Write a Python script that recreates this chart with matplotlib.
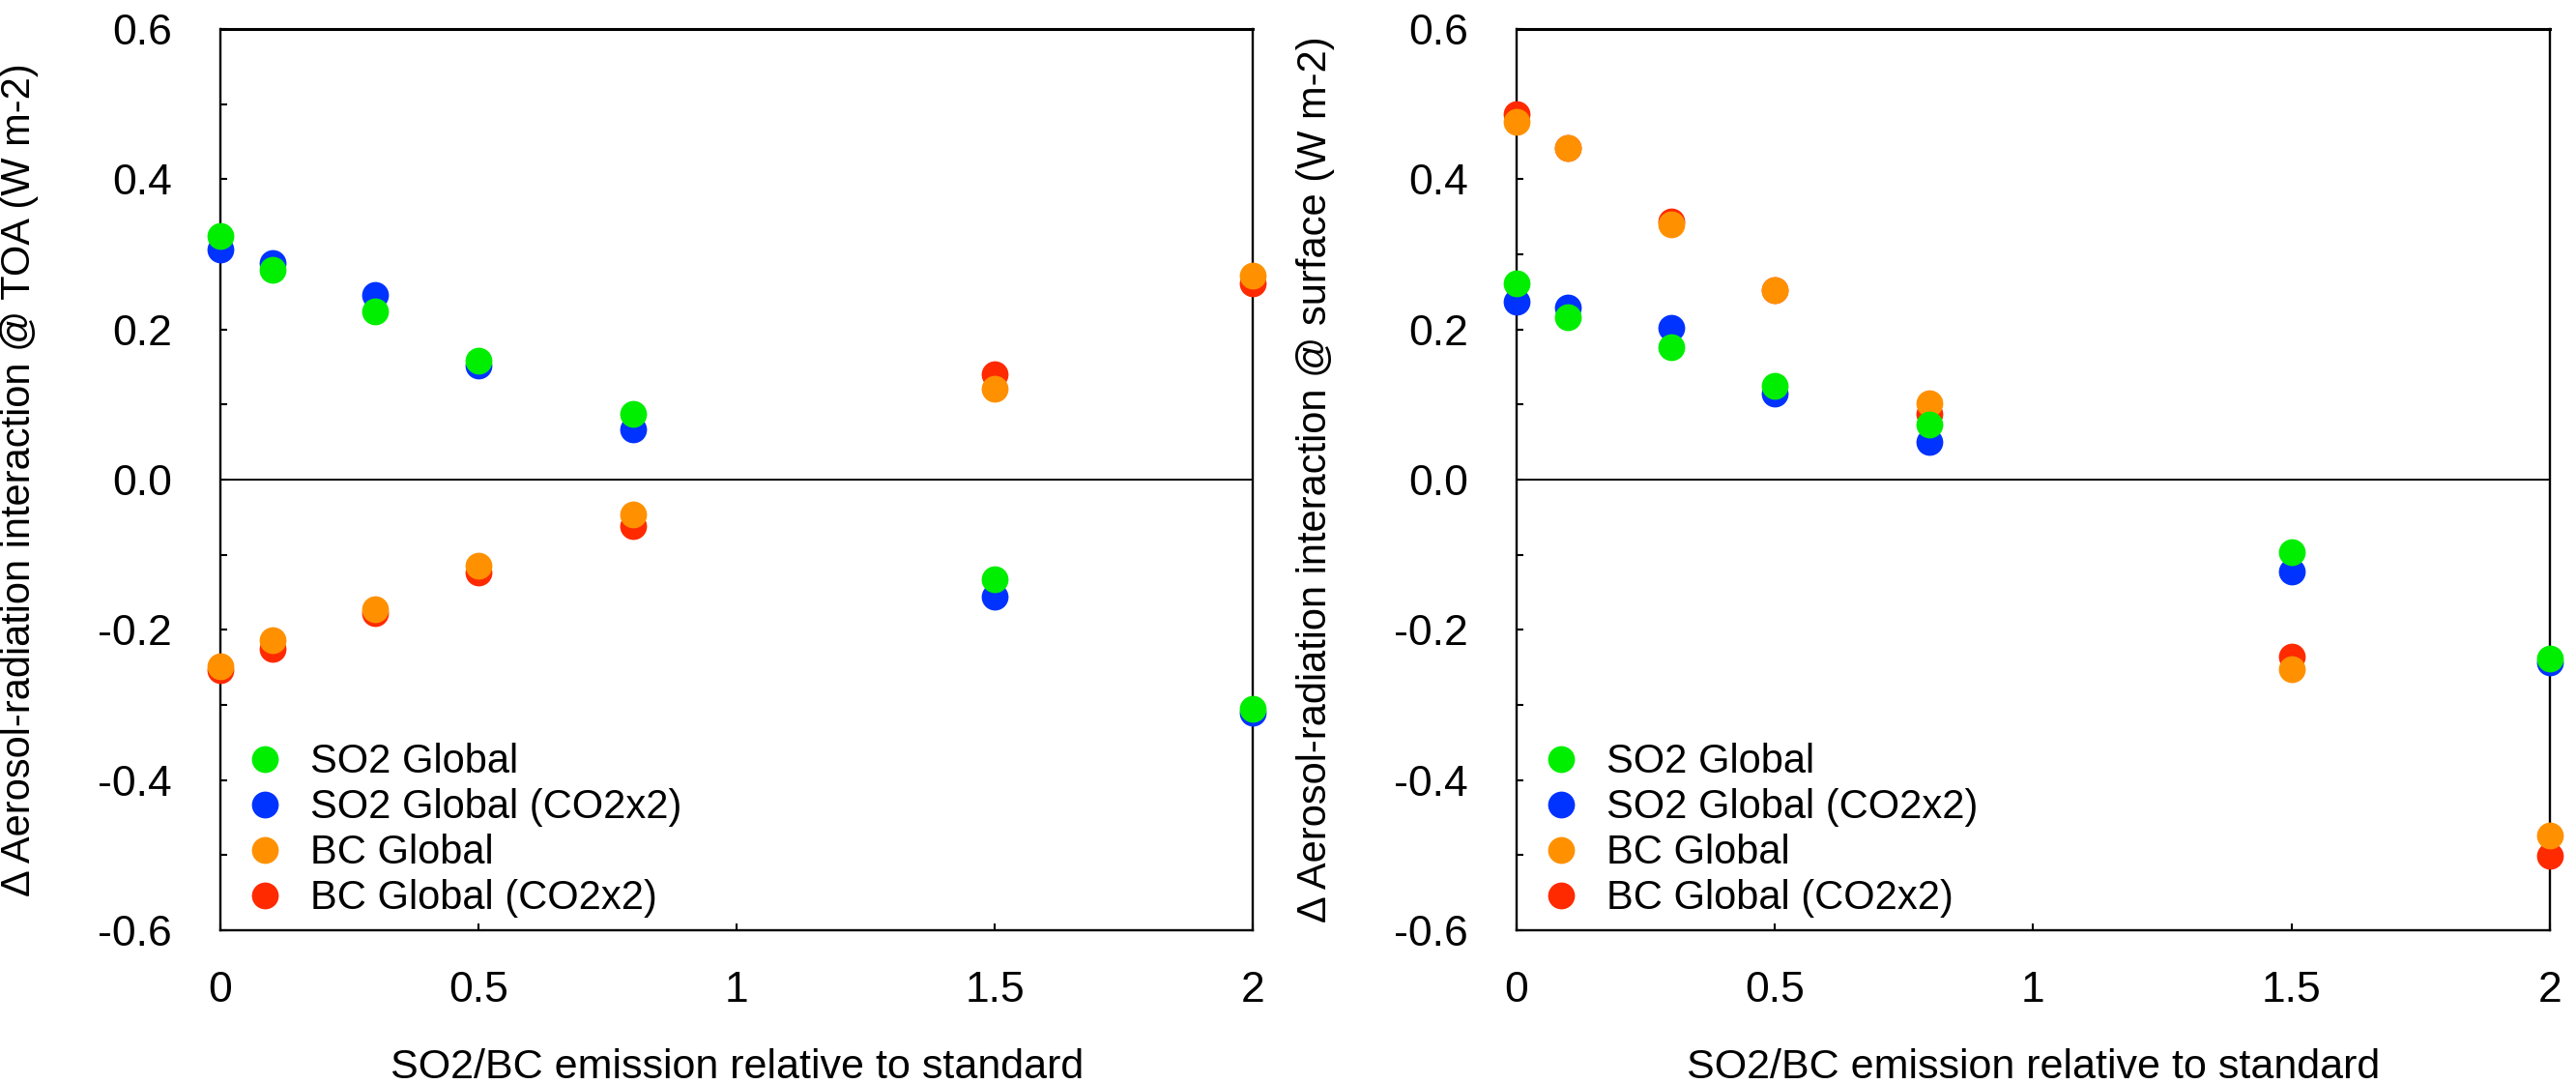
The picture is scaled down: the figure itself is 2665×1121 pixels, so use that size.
import numpy as np
import matplotlib
matplotlib.use('Agg')
import matplotlib.pyplot as plt

plt.rcParams['font.family'] = ['Liberation Sans', 'DejaVu Sans']

# emission factor relative to standard
x = [0, 0.1, 0.3, 0.5, 0.8, 1.5, 2]

# TOA
toa_so2 = [0.325, 0.279, 0.224, 0.158, 0.087, -0.132, -0.305]
toa_so2_co2 = [0.307, 0.288, 0.246, 0.152, 0.067, -0.156, -0.310]
toa_bc = [-0.249, -0.214, -0.172, -0.114, -0.046, 0.121, 0.272]
toa_bc_co2 = [-0.253, -0.225, -0.178, -0.124, -0.062, 0.140, 0.262]

# surface
sfc_so2 = [0.261, 0.216, 0.176, 0.125, 0.074, -0.096, -0.238]
sfc_so2_co2 = [0.237, 0.229, 0.202, 0.115, 0.050, -0.122, -0.243]
sfc_bc = [0.477, 0.442, 0.340, 0.253, 0.102, -0.252, -0.474]
sfc_bc_co2 = [0.487, 0.442, 0.344, 0.253, 0.088, -0.236, -0.501]

labels = ['SO2 Global', 'SO2 Global (CO2x2)', 'BC Global', 'BC Global (CO2x2)']
cores = ['#00EE00', '#0033FF', '#FF9100', '#FF2A00']
xticks = [0, 0.5, 1, 1.5, 2]
xticklabels = ['0', '0.5', '1', '1.5', '2']
yticks = [-0.6, -0.4, -0.2, 0.0, 0.2, 0.4, 0.6]
yticklabels = ['-0.6', '-0.4', '-0.2', '0.0', '0.2', '0.4', '0.6']


def painel(ax, so2, so2c, bc, bcc, ylabel):
    # desenha na ordem azul, vermelho, laranja, verde (verde por cima)
    h = {}
    h[1] = ax.plot(x, so2c, 'o', color=cores[1], ms=20, mec='none', clip_on=False, zorder=3)[0]
    h[3] = ax.plot(x, bcc, 'o', color=cores[3], ms=20, mec='none', clip_on=False, zorder=4)[0]
    h[2] = ax.plot(x, bc, 'o', color=cores[2], ms=20, mec='none', clip_on=False, zorder=5)[0]
    h[0] = ax.plot(x, so2, 'o', color=cores[0], ms=20, mec='none', clip_on=False, zorder=6)[0]
    ax.axhline(0, color='black', lw=1.4, zorder=2)
    ax.set_xlim(0, 2)
    ax.set_ylim(-0.6, 0.6)
    ax.set_xticks(xticks)
    ax.set_xticklabels(xticklabels)
    ax.set_yticks(yticks)
    ax.set_yticklabels(yticklabels)
    ax.set_yticks(np.arange(-0.5, 0.6, 0.2), minor=True)
    ax.tick_params(axis='both', which='both', direction='in', length=5, width=1.5,
                   labelsize=32, top=False, right=False)
    ax.tick_params(axis='x', pad=30)
    ax.tick_params(axis='y', pad=36)
    for s in ax.spines.values():
        s.set_linewidth(1.7)
    ax.spines['top'].set_linewidth(2.2)
    ax.set_ylabel(ylabel, fontsize=30)
    ax.yaxis.set_label_coords(-0.176, 0.5)
    ax.set_xlabel('SO2/BC emission relative to standard', fontsize=31)
    ax.xaxis.set_label_coords(0.5, -0.131)
    ax.legend([h[0], h[1], h[2], h[3]], labels, loc='lower left',
              bbox_to_anchor=(0.0234, 0.0136), frameon=False, fontsize=30,
              numpoints=1, handlelength=1.0, handletextpad=0.63,
              borderpad=0, borderaxespad=0, labelspacing=0.17)


fig = plt.figure(figsize=(26.65, 11.21), dpi=100)
ax1 = fig.add_axes([0.0856, 0.1418, 0.4008, 0.8314])
ax2 = fig.add_axes([0.5887, 0.1418, 0.4011, 0.8314])
painel(ax1, toa_so2, toa_so2_co2, toa_bc, toa_bc_co2,
       '\u0394 Aerosol-radiation interaction @ TOA (W m-2)')
painel(ax2, sfc_so2, sfc_so2_co2, sfc_bc, sfc_bc_co2,
       '\u0394 Aerosol-radiation interaction @ surface (W m-2)')
plt.savefig('out.png', dpi=100)
